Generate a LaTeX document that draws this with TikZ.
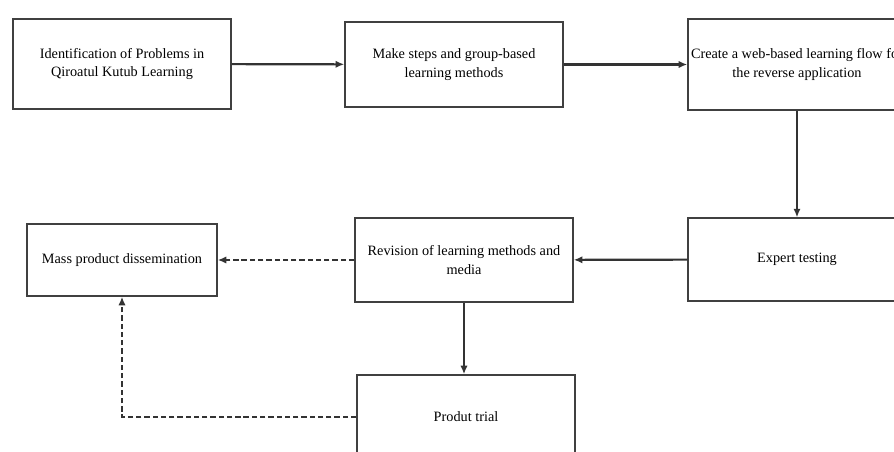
\documentclass[tikz,border=0pt]{standalone}
\usepackage{fontspec}
\setmainfont{Liberation Serif}
\usetikzlibrary{arrows.meta}
\begin{document}
\begin{tikzpicture}[x=0.75pt, y=-0.75pt,
    stage/.style={draw=black!75, line width=1.1pt, align=center, inner sep=0pt, font=\fontsize{10.7}{14.2}\selectfont},
    flow/.style={-{Latex[length=6.5pt,width=5.5pt]}, line width=1.6pt, black!80},
    dashflow/.style={flow, dash pattern=on 4pt off 2.2pt}]
    \useasboundingbox (0,0) rectangle (894,452);
    \clip (0,0) rectangle (894,452);

    \node[stage, minimum width=163.5pt, minimum height=67.5pt] (ident) at (122,64) {Identification of Problems in\\Qiroatul Kutub Learning};
    \node[stage, minimum width=163.5pt, minimum height=64pt] (steps) at (454,64.5) {Make steps and group-based\\learning methods};
    \node[stage, minimum width=163.5pt, minimum height=68pt] (webflow) at (797,64.5) {Create a web-based learning flow for\\the reverse application};

    \node[stage, minimum width=163.5pt, minimum height=62pt] (expert) at (797,259.5) {Expert testing};
    \node[stage, minimum width=163.5pt, minimum height=63pt] (revision) at (464,260) {Revision of learning methods and\\media};
    \node[stage, minimum width=142.5pt, minimum height=54pt] (mass) at (122,260) {Mass product dissemination};
    \node[stage, minimum width=163.5pt, minimum height=63pt] (trial) at (466,417) {Produt trial};

    % main flow
    \draw[flow] (ident) -- (steps);
    \draw[flow] (steps) -- (webflow);
    \draw[flow] (webflow) -- (expert);
    \draw[flow] (expert) -- (revision);
    \draw[flow] (revision.south) -- (revision.south |- trial.north);

    % dissemination
    \draw[dashflow] (revision) -- (mass);
    \draw[dashflow] (trial.west) -| (mass.south);
\end{tikzpicture}
\end{document}
